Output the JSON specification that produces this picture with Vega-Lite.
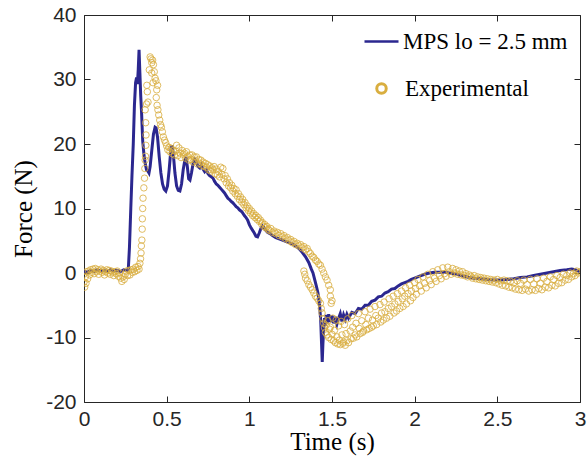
{
"$schema": "https://vega.github.io/schema/vega-lite/v6.json",
"width": 496, "height": 387,
"autosize": {"type": "none"},
"padding": {"left": 84, "top": 15, "right": 7, "bottom": 58},
"background": "white",
"config": {
  "view": {"stroke": "#262626", "strokeWidth": 1},
  "axis": {"domain": false, "grid": false, "tickColor": "#262626", "tickSize": -6, "tickWidth": 1, "labelFlush": false,
    "labelFont": "Liberation Sans", "labelFontSize": 21, "labelColor": "#262626",
    "titleFont": "Liberation Serif", "titleFontSize": 25, "titleFontWeight": "normal", "titleColor": "#000000"},
  "legend": {"labelFont": "Liberation Serif", "labelFontSize": 23, "labelColor": "#000000", "padding": 0, "labelLimit": 400}
},
"datasets": {
"sim": [
{"t":0.00,"f":0.3},{"t":0.02,"f":0.1},{"t":0.04,"f":0.4},{"t":0.06,"f":0.2},{"t":0.08,"f":0.5},{"t":0.10,"f":0.3},{"t":0.12,"f":0.4},{"t":0.14,"f":0.2},{"t":0.16,"f":0.5},{"t":0.18,"f":0.3},{"t":0.20,"f":0.4},{"t":0.22,"f":0.2},{"t":0.24,"f":0.5},{"t":0.26,"f":0.4},{"t":0.268,"f":0.6},{"t":0.275,"f":4},{"t":0.283,"f":10},{"t":0.29,"f":15},{"t":0.298,"f":20},{"t":0.305,"f":26},{"t":0.312,"f":29.5},{"t":0.318,"f":30.3},{"t":0.323,"f":29.3},{"t":0.328,"f":31.5},{"t":0.333,"f":34.6},{"t":0.338,"f":31},{"t":0.343,"f":27.5},{"t":0.348,"f":25},{"t":0.355,"f":20.5},{"t":0.362,"f":18.5},{"t":0.37,"f":17},{"t":0.378,"f":16},{"t":0.386,"f":15.8},{"t":0.393,"f":15.5},{"t":0.40,"f":16.5},{"t":0.41,"f":19},{"t":0.42,"f":21.5},{"t":0.43,"f":22.6},{"t":0.436,"f":22.5},{"t":0.445,"f":21},{"t":0.455,"f":18},{"t":0.465,"f":15.5},{"t":0.475,"f":13.8},{"t":0.485,"f":13},{"t":0.495,"f":12.7},{"t":0.505,"f":13.5},{"t":0.515,"f":16},{"t":0.525,"f":19},{"t":0.532,"f":19.8},{"t":0.54,"f":18.5},{"t":0.55,"f":15.5},{"t":0.56,"f":13.5},{"t":0.57,"f":12.8},{"t":0.58,"f":12.7},{"t":0.59,"f":13.8},{"t":0.60,"f":16},{"t":0.61,"f":17.5},{"t":0.617,"f":18},{"t":0.625,"f":16.5},{"t":0.633,"f":14.6},{"t":0.641,"f":14.4},{"t":0.65,"f":15.5},{"t":0.66,"f":17},{"t":0.67,"f":17.6},{"t":0.68,"f":17.2},{"t":0.69,"f":16.5},{"t":0.70,"f":16.3},{"t":0.71,"f":16.8},{"t":0.72,"f":16.1},{"t":0.73,"f":15.7},{"t":0.74,"f":16.0},{"t":0.75,"f":15.4},{"t":0.76,"f":15.1},{"t":0.77,"f":14.9},{"t":0.78,"f":14.7},{"t":0.79,"f":14.2},{"t":0.80,"f":13.8},{"t":0.81,"f":13.6},{"t":0.82,"f":13.3},{"t":0.83,"f":13.0},{"t":0.84,"f":12.7},{"t":0.85,"f":12.4},{"t":0.86,"f":12.0},{"t":0.87,"f":11.6},{"t":0.88,"f":11.4},{"t":0.89,"f":11.1},{"t":0.90,"f":10.9},{"t":0.91,"f":10.6},{"t":0.92,"f":10.3},{"t":0.93,"f":10.1},{"t":0.94,"f":9.8},{"t":0.955,"f":9.5},{"t":0.97,"f":8.9},{"t":0.98,"f":8.6},{"t":0.99,"f":8.2},{"t":1.00,"f":7.5},{"t":1.01,"f":7.0},{"t":1.02,"f":6.6},{"t":1.03,"f":6.2},{"t":1.04,"f":5.7},{"t":1.05,"f":5.6},{"t":1.06,"f":6.2},{"t":1.07,"f":6.9},{"t":1.08,"f":7.3},{"t":1.09,"f":7.0},{"t":1.10,"f":6.6},{"t":1.11,"f":6.3},{"t":1.125,"f":6.1},{"t":1.14,"f":5.8},{"t":1.16,"f":5.5},{"t":1.18,"f":5.3},{"t":1.20,"f":5.1},{"t":1.22,"f":4.9},{"t":1.24,"f":4.7},{"t":1.26,"f":4.5},{"t":1.28,"f":4.2},{"t":1.30,"f":3.8},{"t":1.32,"f":3.2},{"t":1.34,"f":2.5},{"t":1.36,"f":1.6},{"t":1.375,"f":0.6},{"t":1.385,"f":0},{"t":1.395,"f":-1},{"t":1.405,"f":-2},{"t":1.415,"f":-3.1},{"t":1.425,"f":-5.0},{"t":1.432,"f":-7.5},{"t":1.437,"f":-11},{"t":1.441,"f":-13.8},{"t":1.445,"f":-11},{"t":1.45,"f":-8.5},{"t":1.455,"f":-7},{"t":1.46,"f":-8.2},{"t":1.465,"f":-6.5},{"t":1.47,"f":-7.8},{"t":1.48,"f":-6.4},{"t":1.49,"f":-7.6},{"t":1.50,"f":-6.6},{"t":1.51,"f":-7.8},{"t":1.52,"f":-6.8},{"t":1.53,"f":-7.9},{"t":1.54,"f":-7.0},{"t":1.55,"f":-6.3},{"t":1.56,"f":-7.5},{"t":1.57,"f":-6.5},{"t":1.58,"f":-7.2},{"t":1.59,"f":-6.4},{"t":1.60,"f":-7.0},{"t":1.62,"f":-6.1},{"t":1.64,"f":-6.3},{"t":1.66,"f":-5.5},{"t":1.68,"f":-5.6},{"t":1.70,"f":-5.0},{"t":1.72,"f":-5.0},{"t":1.74,"f":-4.4},{"t":1.76,"f":-4.2},{"t":1.78,"f":-3.7},{"t":1.80,"f":-3.6},{"t":1.82,"f":-3.1},{"t":1.84,"f":-2.9},{"t":1.86,"f":-2.5},{"t":1.88,"f":-2.4},{"t":1.90,"f":-2.0},{"t":1.92,"f":-1.7},{"t":1.94,"f":-1.5},{"t":1.96,"f":-1.3},{"t":1.98,"f":-1.0},{"t":2.00,"f":-0.8},{"t":2.03,"f":-0.5},{"t":2.06,"f":-0.2},{"t":2.09,"f":0.0},{"t":2.12,"f":0.1},{"t":2.15,"f":0.1},{"t":2.18,"f":0.1},{"t":2.21,"f":0.0},{"t":2.24,"f":-0.1},{"t":2.27,"f":-0.3},{"t":2.30,"f":-0.5},{"t":2.33,"f":-0.7},{"t":2.36,"f":-0.8},{"t":2.40,"f":-0.9},{"t":2.44,"f":-1.0},{"t":2.48,"f":-1.1},{"t":2.52,"f":-1.1},{"t":2.56,"f":-1.0},{"t":2.60,"f":-0.9},{"t":2.64,"f":-0.7},{"t":2.68,"f":-0.6},{"t":2.72,"f":-0.4},{"t":2.76,"f":-0.2},{"t":2.80,"f":0.0},{"t":2.84,"f":0.2},{"t":2.88,"f":0.4},{"t":2.92,"f":0.5},{"t":2.95,"f":0.6},{"t":2.97,"f":0.5},{"t":3.00,"f":0.2}
],
"exp": [
{"t":0.000,"f":-1.4},{"t":0.004,"f":-2.2},{"t":0.008,"f":-0.6},{"t":0.012,"f":-1.6},{"t":0.016,"f":0.2},{"t":0.022,"f":-0.9},{"t":0.028,"f":0.3},{"t":0.034,"f":-0.3},{"t":0.04,"f":0.5},{"t":0.047,"f":0.1},{"t":0.054,"f":0.6},{"t":0.061,"f":-0.1},{"t":0.068,"f":0.7},{"t":0.075,"f":0.2},{"t":0.082,"f":0.5},{"t":0.089,"f":-0.2},{"t":0.096,"f":0.3},{"t":0.103,"f":0.6},{"t":0.11,"f":0.1},{"t":0.117,"f":0.4},{"t":0.124,"f":-0.3},{"t":0.131,"f":0.2},{"t":0.138,"f":0.5},{"t":0.145,"f":0.0},{"t":0.152,"f":0.4},{"t":0.159,"f":-0.2},{"t":0.166,"f":0.3},{"t":0.173,"f":0.1},{"t":0.18,"f":-0.4},{"t":0.187,"f":0.2},{"t":0.194,"f":-0.1},{"t":0.201,"f":0.3},{"t":0.208,"f":-0.5},{"t":0.215,"f":0.0},{"t":0.222,"f":-0.8},{"t":0.229,"f":-1.3},{"t":0.236,"f":-0.6},{"t":0.243,"f":-1.0},{"t":0.25,"f":-0.2},{"t":0.257,"f":0.3},{"t":0.264,"f":-0.4},{"t":0.271,"f":0.4},{"t":0.278,"f":-0.3},{"t":0.285,"f":0.5},{"t":0.292,"f":0.1},{"t":0.299,"f":0.6},{"t":0.306,"f":0.2},{"t":0.313,"f":0.9},{"t":0.32,"f":0.4},{"t":0.327,"f":1.0},{"t":0.333,"f":0.6},{"t":0.338,"f":1.5},{"t":0.342,"f":2.2},{"t":0.345,"f":3.1},{"t":0.347,"f":4.2},{"t":0.35,"f":5.1},{"t":0.352,"f":6.8},{"t":0.353,"f":8.4},{"t":0.355,"f":10.0},{"t":0.357,"f":11.6},{"t":0.362,"f":13.2},{"t":0.366,"f":14.7},{"t":0.368,"f":16.2},{"t":0.37,"f":17.5},{"t":0.372,"f":18.1},{"t":0.374,"f":19.8},{"t":0.375,"f":21.4},{"t":0.373,"f":23.3},{"t":0.37,"f":25.3},{"t":0.378,"f":26.2},{"t":0.387,"f":26.5},{"t":0.383,"f":28.1},{"t":0.38,"f":29.1},
{"t":0.395,"f":31.5},{"t":0.40,"f":33.5},{"t":0.405,"f":33.2},{"t":0.41,"f":32.6},{"t":0.415,"f":33.0},{"t":0.42,"f":32.3},{"t":0.425,"f":31.2},{"t":0.41,"f":31.0},{"t":0.43,"f":30.2},{"t":0.418,"f":29.5},{"t":0.435,"f":29.8},{"t":0.445,"f":29.1},{"t":0.44,"f":28.4},{"t":0.437,"f":27.2},{"t":0.442,"f":26.0},{"t":0.447,"f":25.3},{"t":0.452,"f":24.5},{"t":0.458,"f":23.7},{"t":0.463,"f":23.0},{"t":0.468,"f":22.6},{"t":0.474,"f":21.9},{"t":0.48,"f":21.1},{"t":0.487,"f":20.6},{"t":0.494,"f":20.2},{"t":0.50,"f":19.7},{"t":0.507,"f":19.1},{"t":0.514,"f":19.5},{"t":0.52,"f":18.8},{"t":0.527,"f":19.3},{"t":0.534,"f":18.5},{"t":0.54,"f":19.0},{"t":0.547,"f":18.3},{"t":0.554,"f":18.9},{"t":0.56,"f":19.8},{"t":0.567,"f":18.2},{"t":0.574,"f":19.4},{"t":0.58,"f":18.6},{"t":0.587,"f":17.9},{"t":0.594,"f":19.0},{"t":0.60,"f":18.4},{"t":0.607,"f":18.6},{"t":0.614,"f":17.8},{"t":0.62,"f":18.8},{"t":0.627,"f":18.1},{"t":0.634,"f":17.5},{"t":0.64,"f":18.3},{"t":0.647,"f":17.6},{"t":0.654,"f":18.3},{"t":0.66,"f":17.2},{"t":0.667,"f":18.0},{"t":0.674,"f":17.4},{"t":0.68,"f":18.0},{"t":0.687,"f":16.9},{"t":0.694,"f":17.6},{"t":0.70,"f":17.0},{"t":0.707,"f":17.5},{"t":0.714,"f":16.7},{"t":0.72,"f":17.2},{"t":0.727,"f":16.5},{"t":0.734,"f":17.0},{"t":0.74,"f":16.4},{"t":0.747,"f":16.8},{"t":0.754,"f":16.0},{"t":0.76,"f":16.6},{"t":0.767,"f":15.8},{"t":0.774,"f":16.3},{"t":0.78,"f":16.0},{"t":0.787,"f":16.5},{"t":0.794,"f":15.4},{"t":0.80,"f":16.1},{"t":0.807,"f":15.2},{"t":0.814,"f":15.7},{"t":0.82,"f":14.9},{"t":0.827,"f":16.4},{"t":0.834,"f":15.3},{"t":0.84,"f":16.2},{"t":0.847,"f":14.6},{"t":0.854,"f":15.1},{"t":0.86,"f":14.0},{"t":0.867,"f":14.6},{"t":0.874,"f":13.5},{"t":0.88,"f":14.0},{"t":0.887,"f":13.2},{"t":0.894,"f":13.6},{"t":0.90,"f":12.7},{"t":0.907,"f":13.1},{"t":0.914,"f":12.3},{"t":0.92,"f":12.9},{"t":0.927,"f":11.9},{"t":0.934,"f":12.3},{"t":0.94,"f":11.4},{"t":0.947,"f":11.8},{"t":0.954,"f":11.0},{"t":0.96,"f":11.4},{"t":0.967,"f":10.6},{"t":0.974,"f":10.9},{"t":0.98,"f":10.1},{"t":0.987,"f":10.4},{"t":0.994,"f":9.7},{"t":1.00,"f":10.0},{"t":1.007,"f":9.3},{"t":1.014,"f":9.6},{"t":1.02,"f":8.9},{"t":1.027,"f":9.2},{"t":1.034,"f":8.6},{"t":1.04,"f":8.9},{"t":1.047,"f":8.3},{"t":1.054,"f":8.6},{"t":1.06,"f":8.0},{"t":1.067,"f":8.2},{"t":1.074,"f":7.6},{"t":1.08,"f":7.8},{"t":1.087,"f":7.2},{"t":1.094,"f":7.5},{"t":1.10,"f":7.0},{"t":1.107,"f":7.2},{"t":1.114,"f":6.8},{"t":1.12,"f":6.6},{"t":1.13,"f":6.9},{"t":1.14,"f":6.3},{"t":1.15,"f":6.5},{"t":1.16,"f":6.1},{"t":1.17,"f":6.3},{"t":1.18,"f":5.8},{"t":1.19,"f":6.1},{"t":1.20,"f":5.6},{"t":1.21,"f":5.8},{"t":1.22,"f":5.3},{"t":1.23,"f":5.5},{"t":1.24,"f":5.0},{"t":1.25,"f":5.2},{"t":1.26,"f":4.7},{"t":1.27,"f":4.9},{"t":1.28,"f":4.4},{"t":1.29,"f":4.6},{"t":1.30,"f":4.2},{"t":1.31,"f":4.4},{"t":1.32,"f":3.9},{"t":1.33,"f":4.1},{"t":1.34,"f":3.6},{"t":1.35,"f":3.8},{"t":1.36,"f":3.3},{"t":1.37,"f":3.0},{"t":1.38,"f":2.6},{"t":1.39,"f":2.4},{"t":1.40,"f":2.0},{"t":1.41,"f":1.8},{"t":1.42,"f":1.4},{"t":1.43,"f":1.2},{"t":1.44,"f":0.6},{"t":1.45,"f":0.0},{"t":1.46,"f":-0.6},{"t":1.47,"f":-1.1},{"t":1.48,"f":-1.9},{"t":1.49,"f":-2.6},{"t":1.49,"f":-3.6},{"t":1.495,"f":-4.7},{"t":1.50,"f":-4.3},
{"t":1.33,"f":0.3},{"t":1.335,"f":-0.2},{"t":1.34,"f":-0.8},{"t":1.35,"f":-1.2},{"t":1.36,"f":-1.8},{"t":1.37,"f":-2.2},{"t":1.38,"f":-2.6},{"t":1.39,"f":-3.1},{"t":1.40,"f":-3.6},{"t":1.41,"f":-3.9},{"t":1.42,"f":-4.3},{"t":1.43,"f":-4.7},{"t":1.435,"f":-5.5},{"t":1.44,"f":-6.2},{"t":1.445,"f":-7.1},{"t":1.45,"f":-7.8},{"t":1.455,"f":-8.5},
{"t":1.46,"f":-9.2},{"t":1.465,"f":-8.1},{"t":1.47,"f":-9.6},{"t":1.475,"f":-7.4},{"t":1.48,"f":-10.0},{"t":1.485,"f":-8.7},{"t":1.49,"f":-8.4},{"t":1.495,"f":-10.3},{"t":1.50,"f":-9.5},{"t":1.505,"f":-7.0},{"t":1.51,"f":-10.5},{"t":1.515,"f":-8.9},{"t":1.52,"f":-10.8},{"t":1.525,"f":-7.3},{"t":1.53,"f":-9.9},{"t":1.535,"f":-11.0},{"t":1.54,"f":-8.2},{"t":1.545,"f":-10.4},{"t":1.55,"f":-11.1},{"t":1.555,"f":-7.5},{"t":1.56,"f":-9.6},{"t":1.565,"f":-10.9},{"t":1.57,"f":-10.7},{"t":1.575,"f":-8.0},{"t":1.58,"f":-11.2},{"t":1.585,"f":-9.4},{"t":1.59,"f":-10.5},{"t":1.595,"f":-7.1},{"t":1.60,"f":-10.8},{"t":1.61,"f":-9.0},{"t":1.615,"f":-10.2},{"t":1.62,"f":-6.6},{"t":1.625,"f":-8.4},{"t":1.63,"f":-10.1},{"t":1.64,"f":-9.6},{"t":1.645,"f":-7.8},{"t":1.65,"f":-9.9},{"t":1.66,"f":-6.3},{"t":1.665,"f":-8.6},{"t":1.67,"f":-9.4},{"t":1.68,"f":-7.4},{"t":1.685,"f":-9.2},{"t":1.69,"f":-9.0},{"t":1.70,"f":-6.0},{"t":1.705,"f":-8.0},{"t":1.71,"f":-8.8},{"t":1.72,"f":-7.0},{"t":1.725,"f":-8.6},{"t":1.73,"f":-5.6},{"t":1.74,"f":-8.4},{"t":1.745,"f":-7.3},{"t":1.75,"f":-8.2},{"t":1.76,"f":-5.2},{"t":1.765,"f":-6.6},{"t":1.77,"f":-8.0},{"t":1.78,"f":-7.0},{"t":1.79,"f":-4.9},{"t":1.795,"f":-7.6},{"t":1.80,"f":-6.2},{"t":1.81,"f":-7.3},{"t":1.815,"f":-4.5},{"t":1.82,"f":-6.0},{"t":1.83,"f":-7.0},{"t":1.84,"f":-5.5},{"t":1.845,"f":-4.0},{"t":1.85,"f":-6.7},{"t":1.86,"f":-5.2},{"t":1.87,"f":-3.6},{"t":1.875,"f":-6.2},{"t":1.88,"f":-4.8},{"t":1.89,"f":-5.9},{"t":1.895,"f":-3.2},{"t":1.90,"f":-4.4},{"t":1.91,"f":-5.5},{"t":1.92,"f":-2.8},{"t":1.925,"f":-4.0},{"t":1.93,"f":-5.2},{"t":1.94,"f":-3.6},{"t":1.945,"f":-2.3},{"t":1.95,"f":-4.8},{"t":1.96,"f":-3.2},{"t":1.97,"f":-1.9},{"t":1.975,"f":-4.3},{"t":1.98,"f":-2.8},{"t":1.99,"f":-3.8},{"t":2.00,"f":-1.5},{"t":2.005,"f":-2.4},{"t":2.01,"f":-3.3},{"t":2.02,"f":-1.0},{"t":2.03,"f":-2.0},{"t":2.04,"f":-2.8},{"t":2.05,"f":-0.6},{"t":2.06,"f":-1.6},{"t":2.07,"f":-2.3},{"t":2.08,"f":-0.2},{"t":2.09,"f":-1.2},{"t":2.10,"f":-1.8},{"t":2.11,"f":0.2},{"t":2.12,"f":-0.8},{"t":2.13,"f":-1.3},{"t":2.14,"f":0.5},{"t":2.15,"f":-0.4},{"t":2.16,"f":-0.9},{"t":2.17,"f":0.8},{"t":2.18,"f":-0.1},{"t":2.19,"f":-0.5},{"t":2.20,"f":0.9},{"t":2.21,"f":0.2},{"t":2.22,"f":-0.2},{"t":2.23,"f":0.7},{"t":2.24,"f":0.0},{"t":2.25,"f":0.5},{"t":2.26,"f":-0.2},{"t":2.27,"f":0.3},{"t":2.28,"f":-0.3},{"t":2.29,"f":0.2},{"t":2.30,"f":-0.4},{"t":2.31,"f":-0.1},{"t":2.32,"f":-0.6},{"t":2.33,"f":-0.3},{"t":2.34,"f":-0.5},{"t":2.35,"f":-0.8},{"t":2.36,"f":-0.4},{"t":2.37,"f":-0.9},{"t":2.38,"f":-0.6},{"t":2.39,"f":-1.0},{"t":2.40,"f":-0.7},{"t":2.41,"f":-1.1},{"t":2.42,"f":-0.8},{"t":2.43,"f":-1.2},{"t":2.44,"f":-0.9},{"t":2.45,"f":-1.3},{"t":2.46,"f":-1.0},{"t":2.47,"f":-1.4},{"t":2.48,"f":-1.1},{"t":2.49,"f":-1.5},{"t":2.50,"f":-1.0},{"t":2.51,"f":-1.7},{"t":2.52,"f":-1.2},{"t":2.53,"f":-1.9},{"t":2.54,"f":-1.1},{"t":2.55,"f":-2.0},{"t":2.56,"f":-1.2},{"t":2.57,"f":-2.2},{"t":2.58,"f":-1.3},{"t":2.59,"f":-2.3},{"t":2.60,"f":-1.5},{"t":2.61,"f":-2.5},{"t":2.62,"f":-1.2},{"t":2.63,"f":-2.6},{"t":2.64,"f":-1.6},{"t":2.65,"f":-2.7},{"t":2.66,"f":-1.1},{"t":2.67,"f":-2.5},{"t":2.68,"f":-1.8},{"t":2.69,"f":-2.8},{"t":2.70,"f":-1.0},{"t":2.71,"f":-2.6},{"t":2.72,"f":-1.7},{"t":2.73,"f":-2.7},{"t":2.74,"f":-0.9},{"t":2.75,"f":-2.4},{"t":2.76,"f":-1.6},{"t":2.77,"f":-2.6},{"t":2.78,"f":-0.8},{"t":2.79,"f":-2.2},{"t":2.80,"f":-1.3},{"t":2.81,"f":-2.3},{"t":2.82,"f":-0.6},{"t":2.83,"f":-1.9},{"t":2.84,"f":-1.0},{"t":2.85,"f":-2.0},{"t":2.86,"f":-0.4},{"t":2.87,"f":-1.6},{"t":2.88,"f":-0.7},{"t":2.89,"f":-1.5},{"t":2.90,"f":-0.2},{"t":2.91,"f":-1.1},{"t":2.92,"f":-0.4},{"t":2.93,"f":-1.0},{"t":2.94,"f":0.0},{"t":2.95,"f":-0.6},{"t":2.96,"f":-0.1},{"t":2.97,"f":-0.4},{"t":2.98,"f":0.3},{"t":2.99,"f":0.0},{"t":3.00,"f":0.2}
]
},
"layer": [
  {
    "data": {"name": "sim"},
    "mark": {"type": "line", "strokeWidth": 3, "clip": true},
    "encoding": {
      "x": {"field": "t", "type": "quantitative", "scale": {"domain": [0, 3], "nice": false, "zero": false},
        "axis": {"orient": "bottom", "values": [0, 0.5, 1, 1.5, 2, 2.5, 3], "format": "~g", "title": "Time (s)", "labelPadding": 12, "titlePadding": 0}},
      "y": {"field": "f", "type": "quantitative", "scale": {"domain": [-20, 40], "nice": false, "zero": false},
        "axis": {"orient": "left", "values": [-20, -10, 0, 10, 20, 30, 40], "labelExpr": "'' + datum.value", "title": "Force (N)", "labelPadding": 14, "titlePadding": 9}},
      "color": {"datum": "MPS lo = 2.5 mm", "type": "nominal", "scale": {"domain": ["MPS lo = 2.5 mm"], "range": ["#2b278f"]},
        "legend": {"title": null, "orient": "none", "legendX": 279, "legendY": 8, "symbolType": "stroke", "symbolSize": 1156, "symbolStrokeWidth": 2.5, "labelOffset": 3}}
    }
  },
  {
    "data": {"name": "exp"},
    "mark": {"type": "point", "shape": "circle", "filled": false, "size": 42, "strokeWidth": 0.9, "opacity": 0.9, "clip": true},
    "encoding": {
      "x": {"field": "t", "type": "quantitative", "axis": null},
      "y": {"field": "f", "type": "quantitative", "axis": null},
      "color": {"datum": "Experimental", "type": "nominal", "scale": {"domain": ["Experimental"], "range": ["#d9ae3f"]},
        "legend": {"title": null, "orient": "none", "legendX": 286, "legendY": 62, "symbolType": "circle", "symbolSize": 90, "symbolStrokeWidth": 3, "symbolOpacity": 1, "labelOffset": 12}}
    }
  },
  {
    "data": {"name": "sim"},
    "mark": {"type": "point", "opacity": 0},
    "encoding": {
      "x": {"field": "t", "type": "quantitative", "axis": {"orient": "top", "values": [0, 0.5, 1, 1.5, 2, 2.5, 3], "labels": false, "title": null}},
      "y": {"field": "f", "type": "quantitative", "axis": {"orient": "right", "values": [-20, -10, 0, 10, 20, 30, 40], "labels": false, "title": null}}
    }
  }
],
"resolve": {"scale": {"color": "independent"}, "axis": {"x": "independent", "y": "independent"}}
}
